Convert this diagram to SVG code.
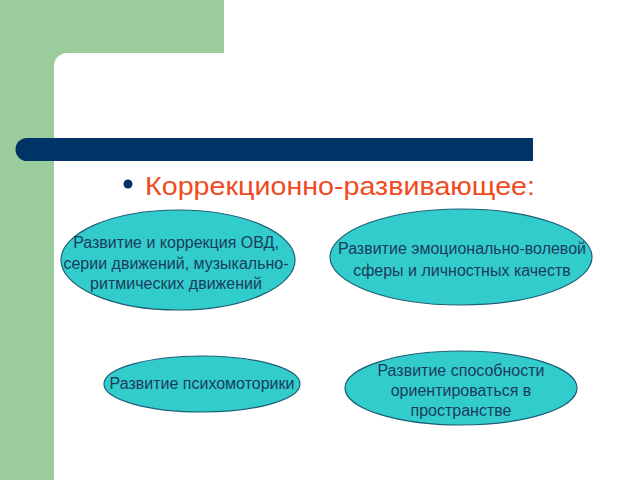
<svg xmlns="http://www.w3.org/2000/svg" width="640" height="480" viewBox="0 0 640 480">
<style>
.bg{fill:#9BCC9B}
.el{fill:#33CCCC;stroke:#1B5F78;stroke-width:1.2}
.t{font-family:"Liberation Sans",Arial,sans-serif;font-size:16px;fill:#1A3C5C;text-anchor:middle}
.title{font-family:"Liberation Sans",Arial,sans-serif;font-size:25.5px;fill:#F04A1E}
</style>
<rect x="0" y="0" width="640" height="480" fill="#FFFFFF"/>
<path class="bg" d="M0 0 H224 V53 H67 A13 13 0 0 0 54 66 V480 H0 Z"/>
<path d="M27 138 H533 V161 H27 A11.5 11.5 0 0 1 27 138 Z" fill="#003366"/>
<g id="title">
<circle cx="128" cy="184" r="4.5" fill="#003366"/>
<text class="title" x="145" y="195" textLength="390" lengthAdjust="spacingAndGlyphs">Коррекционно-развивающее:</text>
</g>
<g id="node1">
<ellipse class="el" cx="178" cy="260" rx="117" ry="50"/>
<text class="t" x="176" y="248">Развитие и коррекция ОВД,</text>
<text class="t" x="176" y="269">серии движений, музыкально-</text>
<text class="t" x="176" y="289">ритмических движений</text>
</g>
<g id="node2">
<ellipse class="el" cx="461" cy="257" rx="131" ry="48"/>
<text class="t" x="462" y="254">Развитие эмоционально-волевой</text>
<text class="t" x="462" y="276">сферы и личностных качеств</text>
</g>
<g id="node3">
<ellipse class="el" cx="202" cy="384" rx="98" ry="28"/>
<text class="t" x="202" y="389">Развитие психомоторики</text>
</g>
<g id="node4">
<ellipse class="el" cx="461" cy="388" rx="116" ry="37"/>
<text class="t" x="461" y="376">Развитие способности</text>
<text class="t" x="461" y="396">ориентироваться в</text>
<text class="t" x="461" y="416">пространстве</text>
</g>
<g id="connectors"></g>
</svg>
